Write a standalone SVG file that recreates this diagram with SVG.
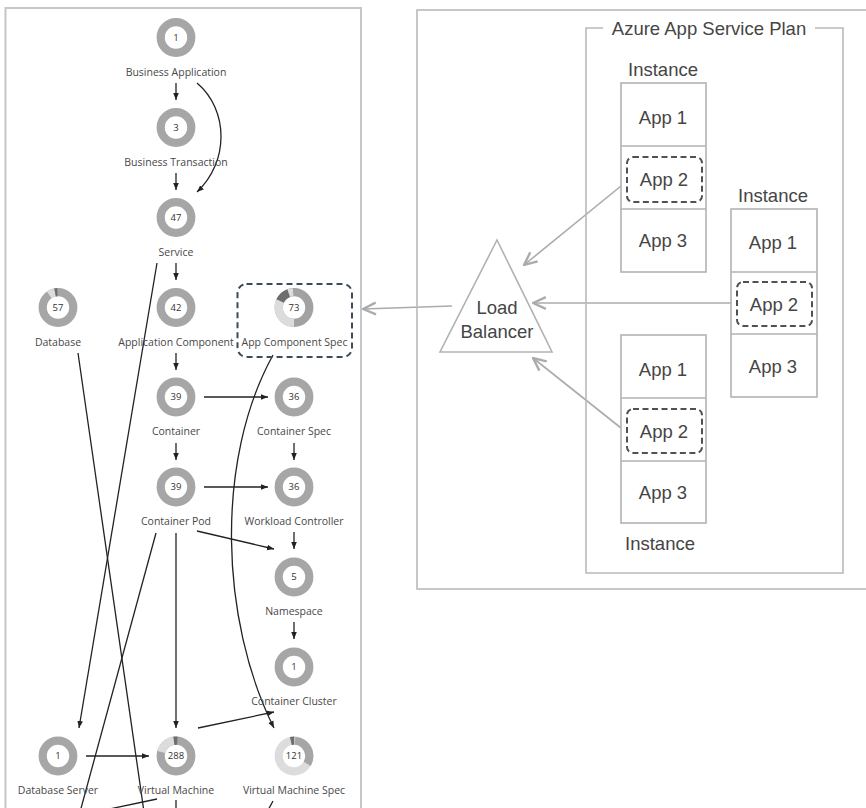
<svg xmlns="http://www.w3.org/2000/svg" width="866" height="808" viewBox="0 0 866 808">
<style>
.frame{fill:none;stroke:#c4c6c8;stroke-width:2}
.rframe{fill:none;stroke:#b8babb;stroke-width:1.6}
.ring{fill:none;stroke:#a6a6a6;stroke-width:8.2}
.seg-l{fill:none;stroke:#dcdcdc;stroke-width:8.2}
.seg-d{fill:none;stroke:#6e6e6e;stroke-width:8.2}
.num{font-family:"Open Sans","DejaVu Sans",sans-serif;font-size:9.5px;fill:#333;text-anchor:middle}
.lbl{font-family:"Open Sans","DejaVu Sans",sans-serif;font-size:10.5px;fill:#484848;text-anchor:middle}
.edge{fill:none;stroke:#222;stroke-width:1.3}
.gedge{fill:none;stroke:#a9abad;stroke-width:1.6}
.rt{font-family:"Liberation Sans",Arial,sans-serif;font-size:18.5px;fill:#454545;text-anchor:middle}
.inst{fill:#fff;stroke:#b0b2b4;stroke-width:1.6}
.dash{fill:none;stroke:#4e5256;stroke-width:2;stroke-dasharray:6 3.5}
.hl{fill:none;stroke:#3c4a5c;stroke-width:2;stroke-dasharray:6 4}
</style>
<defs>
<marker id="ah" viewBox="0 0 10 10" refX="10" refY="5" markerWidth="7" markerHeight="7" markerUnits="userSpaceOnUse" orient="auto">
<path d="M0,1 L10,5 L0,9 z" fill="#222"/>
</marker>
<marker id="gh" viewBox="0 0 14 14" refX="13" refY="7" markerWidth="15" markerHeight="15" markerUnits="userSpaceOnUse" orient="auto">
<path d="M1,1.5 L13,7 L1,12.5" fill="none" stroke="#a9abad" stroke-width="2.2"/>
</marker>
</defs>
<rect width="866" height="808" fill="#fff"/>

<!-- left panel -->
<rect class="frame" x="5.5" y="8" width="355.5" height="830"/>

<g id="connectors">
<path class="edge" d="M176,83 V100" marker-end="url(#ah)"/>
<path class="edge" d="M197,83 C229,110 229,162 197,192" marker-end="url(#ah)"/>
<path class="edge" d="M176,173 V190" marker-end="url(#ah)"/>
<path class="edge" d="M176,263 V280" marker-end="url(#ah)"/>
<path class="edge" d="M157,263 L79,728" marker-end="url(#ah)"/>
<path class="edge" d="M78,353 L144,812"/>
<path class="edge" d="M176,353 V370" marker-end="url(#ah)"/>
<path class="edge" d="M204,397 H268" marker-end="url(#ah)"/>
<path class="edge" d="M294,443 V460" marker-end="url(#ah)"/>
<path class="edge" d="M176,443 V460" marker-end="url(#ah)"/>
<path class="edge" d="M204,487 H268" marker-end="url(#ah)"/>
<path class="edge" d="M294,532 V549" marker-end="url(#ah)"/>
<path class="edge" d="M197,531 L274,549" marker-end="url(#ah)"/>
<path class="edge" d="M156,533 L80,812"/>
<path class="edge" d="M176,533 V728" marker-end="url(#ah)"/>
<path class="edge" d="M273,355 C215,460 220,620 274,728" marker-end="url(#ah)"/>
<path class="edge" d="M294,622 V639" marker-end="url(#ah)"/>
<path class="edge" d="M86,756 H149" marker-end="url(#ah)"/>
<path class="edge" d="M198,728 L274,712" marker-end="url(#ah)"/>
<path class="edge" d="M157,799 L100,811"/>
<path class="edge" d="M176,800 V812"/>
<path class="edge" d="M273,801 L267,812"/>
<!-- right side arrows -->
<path class="gedge" d="M621,186 L524,265" marker-end="url(#gh)"/>
<path class="gedge" d="M735,303 L533,303" marker-end="url(#gh)"/>
<path class="gedge" d="M621,428 L533,358" marker-end="url(#gh)"/>
<path class="gedge" d="M452,306 L363,309" marker-end="url(#gh)"/>
</g>

<g id="n-ba"><circle class="ring" cx="176" cy="37.5" r="15.3"/><text class="num" x="176" y="40.8">1</text><text class="lbl" x="176" y="75.5">Business Application</text></g>
<g id="n-bt"><circle class="ring" cx="176" cy="127.5" r="15.3"/><text class="num" x="176" y="130.8">3</text><text class="lbl" x="176" y="165.5">Business Transaction</text></g>
<g id="n-svc"><circle class="ring" cx="176" cy="217.5" r="15.3"/><text class="num" x="176" y="220.8">47</text><text class="lbl" x="176" y="255.5">Service</text></g>
<g id="n-db"><circle class="ring" cx="58" cy="307.5" r="15.3"/>
<circle class="seg-l" cx="58" cy="307.5" r="15.3" stroke-dasharray="6.4 200" transform="rotate(235 58 307.5)"/>
<circle class="seg-d" cx="58" cy="307.5" r="15.3" stroke-dasharray="2.4 200" transform="rotate(259 58 307.5)"/>
<text class="num" x="58" y="310.8">57</text><text class="lbl" x="58" y="345.5">Database</text></g>
<g id="n-ac"><circle class="ring" cx="176" cy="307.5" r="15.3"/><text class="num" x="176" y="310.8">42</text><text class="lbl" x="176" y="345.5">Application Component</text></g>
<g id="n-acs"><rect class="hl" x="237.5" y="284" width="114.5" height="73" rx="9"/>
<circle class="ring" cx="294" cy="307.5" r="15.3" style="stroke:#a2a2a2"/>
<circle class="seg-l" cx="294" cy="307.5" r="15.3" stroke-dasharray="31.5 200" transform="rotate(90 294 307.5)"/>
<circle class="seg-d" cx="294" cy="307.5" r="15.3" stroke-dasharray="12 200" transform="rotate(205 294 307.5)"/>
<circle class="seg-l" cx="294" cy="307.5" r="15.3" stroke-dasharray="4.5 200" transform="rotate(250 294 307.5)"/>
<text class="num" x="294" y="310.8">73</text><text class="lbl" x="294.5" y="345.5">App Component Spec</text></g>
<g id="n-ctr"><circle class="ring" cx="176" cy="397" r="15.3"/><text class="num" x="176" y="400.3">39</text><text class="lbl" x="176" y="435">Container</text></g>
<g id="n-cs"><circle class="ring" cx="294" cy="397" r="15.3"/><text class="num" x="294" y="400.3">36</text><text class="lbl" x="294" y="435">Container Spec</text></g>
<g id="n-pod"><circle class="ring" cx="176" cy="487" r="15.3"/><text class="num" x="176" y="490.3">39</text><text class="lbl" x="176" y="524.5">Container Pod</text></g>
<g id="n-wc"><circle class="ring" cx="294" cy="487" r="15.3"/><text class="num" x="294" y="490.3">36</text><text class="lbl" x="294" y="524.5">Workload Controller</text></g>
<g id="n-ns"><circle class="ring" cx="294" cy="577" r="15.3"/><text class="num" x="294" y="580.3">5</text><text class="lbl" x="294" y="614.5">Namespace</text></g>
<g id="n-cc"><circle class="ring" cx="294" cy="667" r="15.3"/><text class="num" x="294" y="670.3">1</text><text class="lbl" x="294" y="704.5">Container Cluster</text></g>
<g id="n-dbs"><circle class="ring" cx="58" cy="756" r="15.3"/><text class="num" x="58" y="759.3">1</text><text class="lbl" x="58" y="794">Database Server</text></g>
<g id="n-vm"><circle class="ring" cx="176" cy="756" r="15.3"/>
<circle class="seg-l" cx="176" cy="756" r="15.3" stroke-dasharray="18 200" transform="rotate(195 176 756)"/>
<circle class="seg-d" cx="176" cy="756" r="15.3" stroke-dasharray="3.5 200" transform="rotate(262 176 756)"/>
<text class="num" x="176" y="759.3">288</text><text class="lbl" x="176" y="794">Virtual Machine</text></g>
<g id="n-vms"><circle class="ring" cx="294" cy="756" r="15.3" style="stroke:#dcdcdc"/>
<circle class="ring" cx="294" cy="756" r="15.3" stroke-dasharray="31 200" transform="rotate(-86 294 756)"/>
<circle class="seg-d" cx="294" cy="756" r="15.3" stroke-dasharray="3.5 200" transform="rotate(258 294 756)"/>
<text class="num" x="294" y="759.3">121</text><text class="lbl" x="294" y="794">Virtual Machine Spec</text></g>

<!-- right panel -->
<rect class="rframe" x="417" y="10" width="470" height="579"/>
<g id="plan">
<path class="rframe" d="M603,28 H586 V573 H843 V28 H815"/>
<text class="rt" x="709" y="34.5">Azure App Service Plan</text>
</g>
<g id="instance-1">
<text class="rt" x="663" y="75.5">Instance</text>
<rect class="inst" x="621" y="83" width="85" height="189"/>
<path class="inst" d="M621,146 H706 M621,209 H706"/>
<text class="rt" x="663" y="123.5">App 1</text>
<rect class="dash" x="627" y="157" width="75" height="45" rx="6"/>
<text class="rt" x="664" y="185.5">App 2</text>
<text class="rt" x="663" y="246.5">App 3</text>
</g>
<g id="instance-2">
<text class="rt" x="773" y="201.5">Instance</text>
<rect class="inst" x="731" y="209" width="86" height="188"/>
<path class="inst" d="M731,272 H817 M731,334 H817"/>
<text class="rt" x="773" y="248.5">App 1</text>
<rect class="dash" x="737" y="282" width="75" height="44" rx="6"/>
<text class="rt" x="774" y="310.5">App 2</text>
<text class="rt" x="773" y="372.5">App 3</text>
</g>
<g id="instance-3">
<rect class="inst" x="621" y="335" width="85" height="188"/>
<path class="inst" d="M621,398 H706 M621,461 H706"/>
<text class="rt" x="663" y="375.5">App 1</text>
<rect class="dash" x="627" y="409" width="75" height="44" rx="6"/>
<text class="rt" x="664" y="437.5">App 2</text>
<text class="rt" x="663" y="498.5">App 3</text>
<text class="rt" x="660" y="549.5">Instance</text>
</g>
<g id="load-balancer">
<path d="M497,240 L552,352 L440,352 Z" fill="#fff" stroke="#b0b2b4" stroke-width="1.6"/>
<text class="rt" x="497" y="313.5">Load</text>
<text class="rt" x="497" y="337.5">Balancer</text>
</g>
</svg>
